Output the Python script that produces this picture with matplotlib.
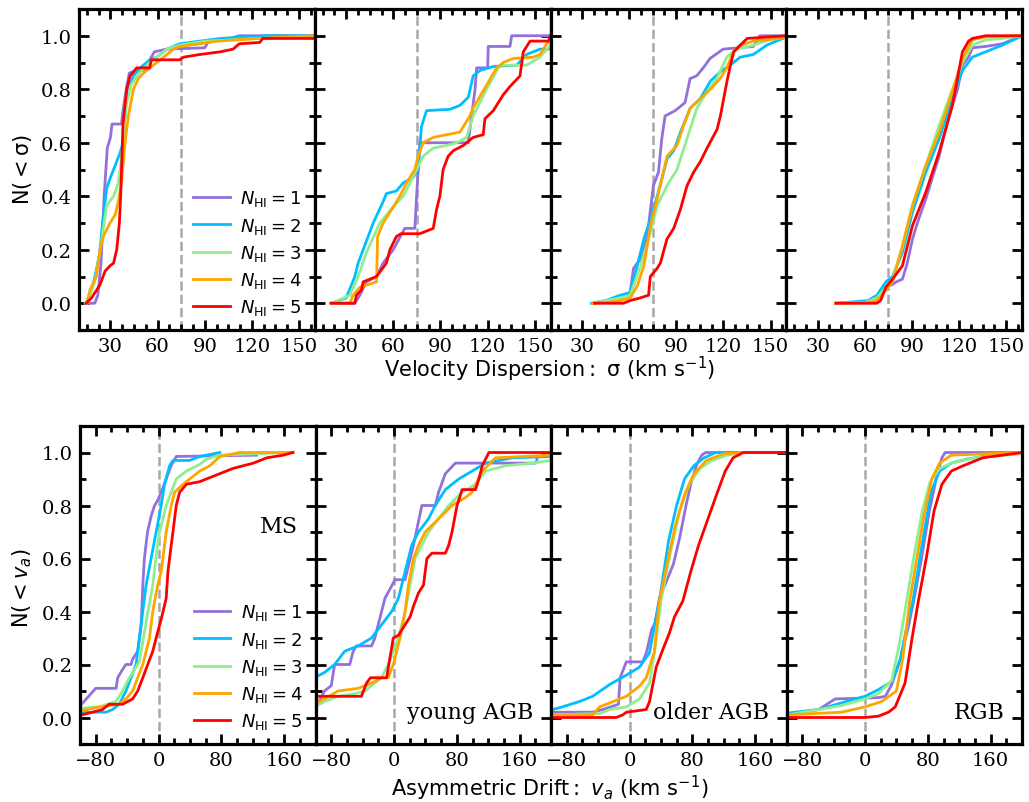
import numpy as np
import matplotlib
matplotlib.use('Agg')
import matplotlib.pyplot as plt
from matplotlib.ticker import MultipleLocator, FormatStrFormatter

plt.rcParams['font.family'] = 'DejaVu Serif'
plt.rcParams['mathtext.fontset'] = 'dejavusans'

# cumulative fractions, (x, N) pairs per N_HI group
# ---- velocity dispersion sigma (km/s) ----
sig_ms_1 = [(14, 0), (20, 0), (22, 0.03), (24, 0.15), (26, 0.40), (28, 0.58), (30, 0.62), (31, 0.67), (37, 0.67),
            (38, 0.72), (40, 0.80), (42, 0.86), (46, 0.87), (52, 0.87), (54, 0.90), (58, 0.94), (66, 0.95), (90, 0.955),
            (92, 0.975), (106, 0.99), (112, 1.0), (160, 1.0)]
sig_ms_2 = [(15, 0), (16, 0.02), (19, 0.07), (23, 0.18), (25, 0.30), (27.6, 0.43), (30, 0.47), (32, 0.50), (34, 0.53),
            (36, 0.56), (38, 0.60), (40, 0.75), (41.5, 0.80), (44.6, 0.85), (49, 0.88), (55, 0.91), (59.5, 0.92),
            (66, 0.95), (74, 0.97), (87, 0.98), (100, 0.99), (130, 1.0), (160, 1.0)]
sig_ms_3 = [(14, 0), (17, 0.03), (20, 0.08), (23, 0.18), (26, 0.30), (27.6, 0.365), (32, 0.40), (35, 0.45), (37, 0.54),
            (40, 0.74), (43, 0.815), (49, 0.865), (55, 0.90), (66, 0.95), (74, 0.965), (91, 0.98), (108, 0.985),
            (125, 0.99), (160, 0.995)]
sig_ms_4 = [(15, 0), (17, 0.05), (21, 0.10), (23.4, 0.20), (25.5, 0.25), (29.7, 0.30), (33, 0.33), (35, 0.38),
            (37, 0.45), (39.3, 0.60), (41.4, 0.70), (44.6, 0.80), (47.8, 0.84), (51, 0.86), (55, 0.88), (59.5, 0.90),
            (66, 0.93), (70, 0.95), (74, 0.96), (87, 0.97), (98, 0.98), (125, 0.99), (160, 1.0)]
sig_ms_5 = [(14.5, 0), (18, 0.02), (21.3, 0.05), (23.4, 0.07), (26.6, 0.12), (29.7, 0.14), (32, 0.15), (34, 0.20),
            (35.7, 0.30), (36.5, 0.40), (38, 0.67), (40.4, 0.80), (42.5, 0.85), (46.7, 0.88), (55, 0.88), (56, 0.91),
            (74, 0.91), (76.5, 0.92), (87, 0.93), (100, 0.94), (108, 0.95), (112, 0.97), (125, 0.975), (127, 0.99),
            (160, 0.99)]

sig_yagb_1 = [(20, 0), (35.5, 0), (38.7, 0.03), (42.9, 0.08), (49.3, 0.10), (53.5, 0.15), (59.9, 0.20), (67.3, 0.28),
              (73.7, 0.28), (74.8, 0.40), (76.9, 0.60), (107.7, 0.60), (108.7, 0.65), (112, 0.80), (113, 0.88),
              (120, 0.88), (120.4, 0.96), (134.2, 0.96), (135.3, 1.0), (160, 1.0)]
sig_yagb_2 = [(20.6, 0), (30, 0.02), (35.5, 0.10), (37.6, 0.15), (40.8, 0.20), (47.2, 0.30), (53.5, 0.38), (55.6, 0.41),
              (62, 0.42), (66.3, 0.45), (72.6, 0.47), (75.8, 0.50), (77.9, 0.66), (81.1, 0.72), (96, 0.725),
              (102.4, 0.74), (107.7, 0.77), (110.8, 0.85), (115.1, 0.87), (123.6, 0.885), (138.5, 0.89),
              (144.8, 0.93), (153.3, 0.95), (160, 0.95)]
sig_yagb_3 = [(20.6, 0), (32.3, 0.03), (37.6, 0.10), (42.9, 0.19), (51.4, 0.30), (59.9, 0.36), (66.3, 0.40),
              (74.8, 0.50), (79, 0.55), (85.4, 0.58), (93.9, 0.59), (100.2, 0.60), (106.6, 0.62), (110.8, 0.70),
              (119.3, 0.80), (127.8, 0.89), (144.8, 0.89), (153.3, 0.92), (160, 0.965)]
sig_yagb_4 = [(20.6, 0), (32.3, 0), (34.4, 0.03), (38.7, 0.06), (49.3, 0.08), (50, 0.25), (53.5, 0.30), (59.9, 0.36),
              (64.1, 0.40), (68.4, 0.45), (73.7, 0.50), (75.8, 0.55), (79, 0.60), (85.4, 0.62), (93.9, 0.63),
              (102.4, 0.64), (108.7, 0.70), (110.8, 0.73), (119.3, 0.815), (125.7, 0.88), (130, 0.90),
              (136.3, 0.915), (149, 0.92), (153.3, 0.93), (157.6, 0.97), (160, 0.98)]
sig_yagb_5 = [(20.6, 0), (35.5, 0), (36.5, 0.03), (39.7, 0.05), (40.8, 0.08), (49.3, 0.10), (55.6, 0.15), (57.8, 0.20),
              (62, 0.25), (65, 0.26), (76.9, 0.26), (85.4, 0.28), (87.5, 0.35), (89.6, 0.40), (91.7, 0.50),
              (94.9, 0.55), (98.1, 0.57), (104.5, 0.59), (110.8, 0.62), (117.2, 0.63), (118.3, 0.69), (123.6, 0.72),
              (130, 0.78), (134.2, 0.81), (140.6, 0.85), (142.7, 0.94), (147, 0.98), (158.6, 0.98), (160, 1.0)]

sig_oagb_1 = [(38, 0), (54.4, 0.015), (60.7, 0.04), (62.8, 0.13), (67.1, 0.165), (71.3, 0.24), (75.5, 0.44),
              (78.7, 0.49), (80.8, 0.615), (82.9, 0.70), (89.3, 0.72), (95.6, 0.75), (98.8, 0.84), (103, 0.85),
              (107.2, 0.88), (111.5, 0.915), (119.9, 0.95), (139, 0.96), (143.2, 1.0), (160, 1.0)]
sig_oagb_2 = [(36, 0), (45, 0.01), (54.4, 0.03), (60.7, 0.04), (65.2, 0.14), (69.4, 0.24), (73.6, 0.315), (77.9, 0.40),
              (84.2, 0.54), (88.4, 0.57), (92.7, 0.64), (99, 0.73), (105.3, 0.765), (111.7, 0.83), (118, 0.865),
              (124.3, 0.89), (130.7, 0.92), (139.1, 0.93), (147.6, 0.965), (160, 0.995)]
sig_oagb_3 = [(37, 0), (45, 0.01), (54.4, 0.02), (60.7, 0.03), (67.3, 0.14), (73.6, 0.265), (77.9, 0.365), (84.2, 0.44),
              (90.5, 0.50), (96.8, 0.615), (103.2, 0.73), (109.5, 0.79), (115.8, 0.84), (122.1, 0.92), (128.4, 0.95),
              (139.1, 0.965), (149.5, 0.985), (160, 0.995)]
sig_oagb_4 = [(37, 0), (50, 0.005), (54.4, 0.01), (60.7, 0.02), (65.2, 0.065), (69.4, 0.14), (73.6, 0.29), (77.9, 0.39),
              (84.2, 0.55), (90.5, 0.59), (94.7, 0.665), (99, 0.73), (105.3, 0.765), (111.7, 0.80), (118, 0.84),
              (122.2, 0.88), (126.4, 0.94), (130.7, 0.965), (139.1, 0.98), (147.6, 0.985), (160, 0.995)]
sig_oagb_5 = [(38, 0), (56.5, 0), (60.7, 0.01), (67.1, 0.02), (72.4, 0.03), (73.5, 0.10), (77.8, 0.13), (79.9, 0.15),
              (84.1, 0.24), (88.4, 0.28), (92.6, 0.35), (96.9, 0.44), (101.1, 0.49), (105.4, 0.53), (109.6, 0.58),
              (116, 0.65), (118.1, 0.70), (122.3, 0.83), (124.5, 0.89), (126.6, 0.94), (130.8, 0.965), (135.1, 0.99),
              (160, 1.0)]

sig_rgb_1 = [(41.6, 0), (60, 0.005), (67.7, 0.02), (73.4, 0.06), (77.6, 0.07), (80, 0.08), (83.9, 0.09), (87, 0.15),
             (90.3, 0.24), (94, 0.31), (98.8, 0.39), (103, 0.47), (107.3, 0.55), (111, 0.64), (115.7, 0.74), (119, 0.80),
             (122.1, 0.89), (126, 0.92), (128.4, 0.955), (136.9, 0.96), (147.5, 0.97), (160, 1.0)]
sig_rgb_2 = [(41.6, 0), (52, 0.005), (62, 0.01), (67.7, 0.03), (73.4, 0.08), (77.6, 0.10), (83.9, 0.19), (90.3, 0.34),
             (98.8, 0.49), (107.3, 0.615), (115.7, 0.765), (122.1, 0.87), (128.4, 0.92), (136.9, 0.94), (147.5, 0.965),
             (160, 1.0)]
sig_rgb_3 = [(41.6, 0), (60, 0.003), (67.7, 0.02), (73.4, 0.06), (77.6, 0.09), (83.9, 0.21), (90.3, 0.365),
             (98.8, 0.515), (107.3, 0.665), (115.7, 0.80), (122.1, 0.90), (128.4, 0.965), (136.9, 0.985), (147.5, 0.99),
             (160, 1.0)]
sig_rgb_4 = [(41.6, 0), (62, 0.002), (67.7, 0.01), (73.4, 0.05), (77.6, 0.08), (83.9, 0.215), (90.3, 0.365),
             (98.8, 0.515), (107.3, 0.64), (115.7, 0.79), (122.1, 0.915), (128.4, 0.985), (136.9, 0.996), (160, 1.0)]
sig_rgb_5 = [(41.6, 0), (67.7, 0), (70, 0.01), (73.4, 0.06), (77.6, 0.09), (83.9, 0.14), (90.3, 0.29), (98.8, 0.415),
             (107.3, 0.565), (115.7, 0.74), (122.1, 0.94), (126, 0.98), (128.4, 0.99), (136.9, 1.0), (160, 1.0)]

# ---- asymmetric drift v_a (km/s) ----
va_ms_1 = [(-98, 0.05), (-80, 0.11), (-54, 0.11), (-52, 0.15), (-46, 0.18), (-41.5, 0.20), (-35, 0.20), (-33, 0.22),
           (-26.5, 0.25), (-22, 0.35), (-20, 0.50), (-18, 0.60), (-14, 0.70), (-9.4, 0.76), (-5, 0.80), (-1, 0.82),
           (3.4, 0.85), (9.8, 0.90), (16, 0.95), (22.6, 0.985), (125, 0.99)]
va_ms_2 = [(-98, 0.02), (-67, 0.02), (-58.5, 0.03), (-50, 0.05), (-41.5, 0.10), (-35, 0.15), (-28.6, 0.20),
           (-22.2, 0.35), (-15.8, 0.50), (-9.4, 0.60), (-3, 0.70), (3.4, 0.80), (7.7, 0.88), (14.1, 0.95), (18.4, 0.97),
           (39.7, 0.97), (52.6, 0.985), (78.2, 1.0)]
va_ms_3 = [(-98, 0.035), (-75.6, 0.04), (-54.3, 0.06), (-45.7, 0.10), (-37.2, 0.15), (-24.4, 0.21), (-13.7, 0.395),
           (-7.3, 0.50), (-3, 0.61), (1.3, 0.70), (9.8, 0.80), (16.2, 0.85), (22.6, 0.90), (35.5, 0.93), (52.6, 0.955),
           (61.1, 0.975), (78.2, 0.99), (121, 0.995), (168, 1.0)]
va_ms_4 = [(-98, 0.025), (-75.6, 0.04), (-50, 0.05), (-41.5, 0.07), (-33, 0.10), (-26.5, 0.15), (-20, 0.20),
           (-11.5, 0.30), (-7.3, 0.40), (-1, 0.50), (3.4, 0.55), (7.7, 0.65), (9.8, 0.70), (16.2, 0.80), (20.5, 0.85),
           (31.2, 0.88), (39.7, 0.90), (52.6, 0.93), (65.4, 0.95), (78.2, 0.985), (104, 1.0), (172, 1.0)]
va_ms_5 = [(-98, 0.01), (-84, 0.02), (-71.4, 0.03), (-62.8, 0.05), (-45.7, 0.05), (-33, 0.07), (-26.5, 0.10),
           (-20, 0.15), (-13.7, 0.20), (-7.3, 0.25), (-3, 0.30), (3.4, 0.37), (9.8, 0.45), (12, 0.55), (16.2, 0.65),
           (18.4, 0.70), (22.6, 0.80), (26.9, 0.85), (35.5, 0.88), (52.6, 0.89), (61, 0.90), (78, 0.92), (95, 0.94),
           (121, 0.96), (138, 0.98), (159, 0.99), (171, 1.0)]

va_yagb_1 = [(-98, 0.045), (-88.5, 0.10), (-80, 0.12), (-75.6, 0.20), (-56.4, 0.20), (-52, 0.25), (-48, 0.27),
             (-28.6, 0.27), (-24.4, 0.30), (-15.8, 0.40), (-11.5, 0.45), (1.3, 0.52), (14.1, 0.52), (24.8, 0.65),
             (35.5, 0.80), (52.6, 0.80), (56.8, 0.85), (65.4, 0.92), (78.2, 0.96), (180.8, 0.96), (183, 0.985)]
va_yagb_2 = [(-98, 0.155), (-88.5, 0.17), (-75.6, 0.20), (-62.8, 0.25), (-45.7, 0.27), (-28.6, 0.30), (-15.8, 0.35),
             (-3, 0.40), (5.6, 0.45), (14.1, 0.55), (22.6, 0.65), (31.2, 0.70), (44, 0.75), (52.6, 0.80), (65.4, 0.86),
             (82.5, 0.90), (99.6, 0.93), (116.7, 0.96), (133.8, 0.97), (150.9, 0.98), (200, 0.985)]
va_yagb_3 = [(-98, 0.045), (-88.5, 0.06), (-71.4, 0.08), (-50, 0.09), (-37, 0.10), (-24.4, 0.13), (-15.8, 0.15),
             (-7.3, 0.20), (5.6, 0.30), (14.1, 0.40), (20.5, 0.50), (26.9, 0.60), (35.5, 0.65), (44, 0.70),
             (56.8, 0.75), (69.7, 0.80), (86.8, 0.85), (103.8, 0.88), (116.7, 0.93), (142.3, 0.95), (176.5, 0.96),
             (200, 0.97)]
va_yagb_4 = [(-98, 0.056), (-88.5, 0.07), (-71.4, 0.10), (-45.7, 0.11), (-28.6, 0.13), (-15.8, 0.15), (-7.3, 0.15),
             (-0.9, 0.20), (7.7, 0.30), (14.1, 0.40), (18.4, 0.50), (24.8, 0.60), (31.2, 0.65), (39.7, 0.70),
             (56.8, 0.75), (73.9, 0.80), (91, 0.83), (99.6, 0.85), (112.4, 0.93), (129.5, 0.98), (200, 0.99)]
va_yagb_5 = [(-98, 0.08), (-41.5, 0.08), (-35, 0.13), (-30, 0.15), (-9.4, 0.15), (-0.9, 0.30), (5.6, 0.31),
             (14.1, 0.35), (20.5, 0.38), (24.8, 0.42), (31.2, 0.47), (37.6, 0.50), (41.9, 0.60), (48.3, 0.62),
             (65.4, 0.62), (69.7, 0.65), (73.9, 0.70), (80.3, 0.80), (86.8, 0.86), (103.8, 0.86), (108.1, 0.90),
             (112.4, 0.95), (120.9, 1.0), (200, 1.0)]

va_oagb_1 = [(-98, 0.02), (-47, 0.02), (-34, 0.03), (-14, 0.05), (-12, 0.15), (-4, 0.21), (17, 0.21), (22, 0.25),
             (28, 0.33), (33, 0.36), (38, 0.45), (48, 0.52), (56, 0.58), (64, 0.68), (72, 0.80), (78, 0.88),
             (85, 0.95), (92, 0.99), (97, 1.0), (200, 1.0)]
va_oagb_2 = [(-98, 0.03), (-89, 0.037), (-64, 0.06), (-47, 0.08), (-25.5, 0.124), (-4, 0.16), (12.7, 0.19),
             (25.5, 0.244), (32, 0.35), (38, 0.44), (50, 0.67), (60, 0.80), (70, 0.90), (82, 0.95), (95, 0.98),
             (110, 1.0), (200, 1.0)]
va_oagb_3 = [(-98, 0.01), (-38, 0.015), (-25.5, 0.03), (-4, 0.04), (12.7, 0.07), (25.5, 0.13), (32, 0.25), (40, 0.44),
             (52, 0.62), (64, 0.78), (76, 0.88), (90, 0.94), (105, 0.97), (125, 0.99), (145, 1.0), (200, 1.0)]
va_oagb_4 = [(-98, 0.01), (-47, 0.01), (-38, 0.04), (-21, 0.06), (-4, 0.08), (12.7, 0.118), (21.3, 0.15),
             (31.8, 0.25), (38, 0.44), (48, 0.58), (58, 0.72), (70, 0.84), (82, 0.92), (98, 0.97), (120, 0.995),
             (145, 1.0), (200, 1.0)]
va_oagb_5 = [(-98, 0), (-17, 0), (-8.5, 0.01), (-4, 0.02), (21.3, 0.03), (25.5, 0.06), (34, 0.19), (42.4, 0.256),
             (51, 0.32), (57.3, 0.38), (68, 0.44), (78, 0.55), (88, 0.65), (100, 0.75), (112, 0.85), (122, 0.93),
             (132, 0.98), (145, 1.0), (200, 1.0)]

va_rgb_1 = [(-98, 0.01), (-59, 0.03), (-38, 0.07), (17, 0.075), (26, 0.08), (34, 0.124), (45, 0.22), (55, 0.34),
            (62, 0.44), (72, 0.60), (82, 0.78), (92, 0.92), (98, 0.98), (102, 1.0), (200, 1.0)]
va_rgb_2 = [(-98, 0.017), (-59, 0.03), (-30, 0.055), (0, 0.08), (17, 0.105), (34, 0.135), (45, 0.22), (53, 0.34),
            (61, 0.44), (72, 0.64), (84, 0.85), (95, 0.93), (110, 0.96), (130, 0.975), (160, 0.99), (200, 1.0)]
va_rgb_3 = [(-98, 0.01), (-30, 0.045), (0, 0.07), (17, 0.09), (34, 0.14), (44, 0.28), (53, 0.44), (63, 0.62),
            (73, 0.78), (83, 0.89), (95, 0.94), (110, 0.96), (140, 0.98), (200, 0.995)]
va_rgb_4 = [(-98, 0.01), (-30, 0.02), (0, 0.04), (21, 0.06), (40, 0.10), (48, 0.22), (57, 0.44), (66, 0.60),
            (75, 0.76), (85, 0.90), (95, 0.96), (110, 0.99), (200, 1.0)]
va_rgb_5 = [(-98, 0), (0, 0), (17, 0.005), (30, 0.02), (38.5, 0.04), (51, 0.13), (60, 0.30), (68, 0.44), (78, 0.60),
            (88, 0.78), (98, 0.88), (110, 0.93), (125, 0.95), (150, 0.98), (200, 1.0)]

groups = ['MS', 'young AGB', 'older AGB', 'RGB']
n_hi = [1, 2, 3, 4, 5]
colors = ['mediumpurple', 'deepskyblue', 'lightgreen', 'orange', 'red']

sig_curves = [[sig_ms_1, sig_ms_2, sig_ms_3, sig_ms_4, sig_ms_5],
              [sig_yagb_1, sig_yagb_2, sig_yagb_3, sig_yagb_4, sig_yagb_5],
              [sig_oagb_1, sig_oagb_2, sig_oagb_3, sig_oagb_4, sig_oagb_5],
              [sig_rgb_1, sig_rgb_2, sig_rgb_3, sig_rgb_4, sig_rgb_5]]
va_curves = [[va_ms_1, va_ms_2, va_ms_3, va_ms_4, va_ms_5],
             [va_yagb_1, va_yagb_2, va_yagb_3, va_yagb_4, va_yagb_5],
             [va_oagb_1, va_oagb_2, va_oagb_3, va_oagb_4, va_oagb_5],
             [va_rgb_1, va_rgb_2, va_rgb_3, va_rgb_4, va_rgb_5]]

W, H = 1029, 803
fig = plt.figure(figsize=(W / 100, H / 100), dpi=100)


def make_row(left, right, top, bottom):
    w = (right - left) / 4.0
    axs = []
    for i in range(4):
        axs.append(fig.add_axes([(left + i * w) / W, 1 - bottom / H, w / W, (bottom - top) / H]))
    return axs


def style(ax, first, major, minor):
    for sp in ax.spines.values():
        sp.set_linewidth(2.3)
    ax.xaxis.set_major_locator(MultipleLocator(major))
    ax.xaxis.set_minor_locator(MultipleLocator(minor))
    ax.yaxis.set_major_locator(MultipleLocator(0.2))
    ax.yaxis.set_minor_locator(MultipleLocator(0.1))
    ax.yaxis.set_major_formatter(FormatStrFormatter('%.1f'))
    ax.tick_params(which='both', direction='in', top=True, right=True, width=2.0, labelsize=14)
    ax.tick_params(which='major', length=7.5, pad=5)
    ax.tick_params(which='minor', length=4)
    ax.set_ylim(-0.1, 1.1)
    if not first:
        ax.tick_params(labelleft=False)


top_axes = make_row(79, 1022, 10, 331)
bot_axes = make_row(80, 1022, 427, 745)

for i, ax in enumerate(top_axes):
    ax.axvline(75, color='#a8a8a8', ls='--', lw=1.8, zorder=1)
    for k, pts in enumerate(sig_curves[i]):
        x, y = np.array(pts).T
        ax.plot(x, y, color=colors[k], lw=2, label=r'$N_{\rm HI} = %d$' % n_hi[k])
    ax.set_xlim(10, 160)
    style(ax, i == 0, 30, 7.5)

for i, ax in enumerate(bot_axes):
    ax.axvline(0, color='#a8a8a8', ls='--', lw=1.8, zorder=1)
    for k, pts in enumerate(va_curves[i]):
        x, y = np.array(pts).T
        ax.plot(x, y, color=colors[k], lw=2, label=r'$N_{\rm HI} = %d$' % n_hi[k])
    ax.set_xlim(-100, 200)
    style(ax, i == 0, 80, 20)
    ty = 0.686 if i == 0 else 0.10
    ax.text(0.925, ty, groups[i], transform=ax.transAxes, ha='right', va='center', fontsize=16)

for ax in (top_axes[0], bot_axes[0]):
    ax.legend(loc='lower right', bbox_to_anchor=(1.0, 0.0), frameon=False, fontsize=13,
              handlelength=2.0, handletextpad=0.6, labelspacing=0.4, borderaxespad=0.3)

fig.text(22 / W, 1 - 170 / H, r'$\mathrm{N(<\sigma)}$', rotation=90, ha='center', va='center', fontsize=15)
fig.text(22 / W, 1 - 588 / H, r'$\mathrm{N(<}v_a\mathrm{)}$', rotation=90, ha='center', va='center', fontsize=15)
fig.text(550 / W, 1 - 369 / H, r'$\mathrm{Velocity\ Dispersion:}\ \mathrm{\sigma}\ \mathrm{(km\ s^{-1})}$',
         ha='center', va='center', fontsize=15)
fig.text(550 / W, 1 - 788 / H, r'$\mathrm{Asymmetric\ Drift:}\ v_a\ \mathrm{(km\ s^{-1})}$',
         ha='center', va='center', fontsize=15)

plt.savefig('out.png', dpi=100)
